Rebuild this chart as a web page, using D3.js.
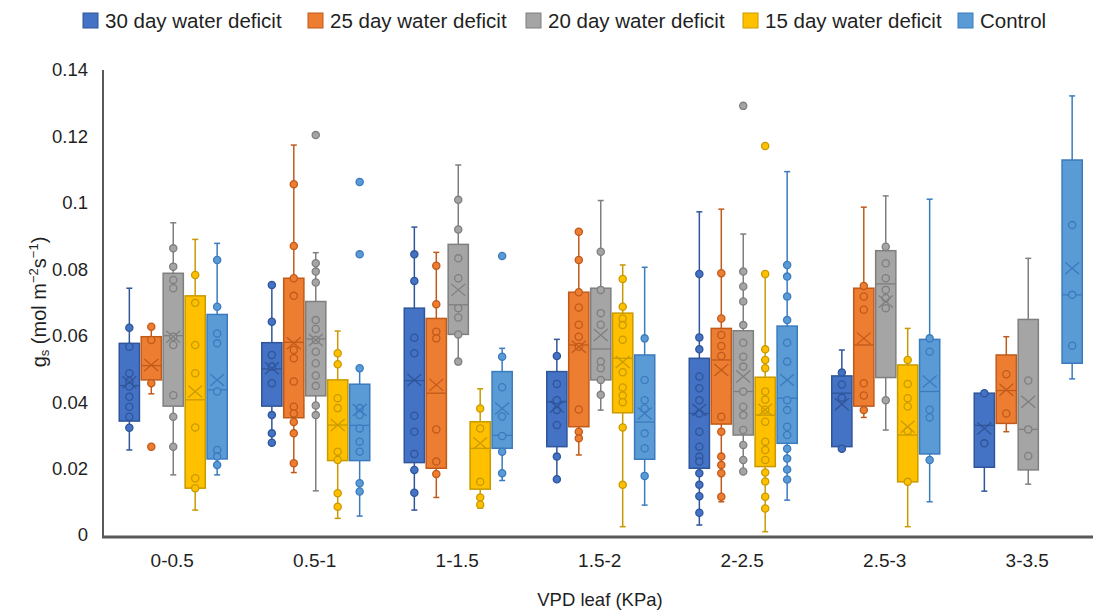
<!DOCTYPE html>
<html lang="en">
<head>
  <meta charset="UTF-8">
  <title>gs by VPD leaf</title>
  <style>
    body, html {
      margin: 0;
      padding: 0;
      background-color: white;
    }
    svg text {
      font-family: "Liberation Sans", Arial, Helvetica, sans-serif;
      fill: #1f1f1f;
    }
  </style>
</head>
<body>
  <svg id="svg" width="1093" height="613"></svg>
  <script src="https://d3js.org/d3.v7.min.js"></script>
  <script>
    // categories and series
    const categories = ['0-0.5', '0.5-1', '1-1.5', '1.5-2', '2-2.5', '2.5-3', '3-3.5']
    const seriesNames = ['30 day water deficit', '25 day water deficit', '20 day water deficit', '15 day water deficit', 'Control']
    const yTicks = [0, 0.02, 0.04, 0.06, 0.08, 0.1, 0.12, 0.14]

    // box stats per category: [lowWhisker, q1, median, q3, highWhisker, mean]
    const stats30 = [
      [0.0256, 0.0343, 0.045, 0.0577, 0.0743, 0.046],
      [0.0278, 0.0388, 0.050, 0.0579, 0.0753, 0.0502],
      [0.0075, 0.0218, 0.0465, 0.0683, 0.0927, 0.0467],
      [0.0168, 0.0266, 0.0401, 0.0492, 0.0589, 0.0386],
      [0.003, 0.0201, 0.0366, 0.0532, 0.0973, 0.0376],
      [0.026, 0.0266, 0.0427, 0.0479, 0.0557, 0.0394],
      [0.0132, 0.0204, 0.033, 0.0427, 0.0427, 0.0321]
    ]
    const stats25 = [
      [0.0425, 0.0467, 0.051, 0.0597, 0.0627, 0.0512],
      [0.0188, 0.0353, 0.058, 0.0773, 0.1174, 0.0577],
      [0.0113, 0.0201, 0.0427, 0.0652, 0.0851, 0.0452],
      [0.0241, 0.0326, 0.0572, 0.0731, 0.0913, 0.0567],
      [0.010, 0.0334, 0.0527, 0.0622, 0.0981, 0.0497],
      [0.0354, 0.0388, 0.0572, 0.0743, 0.0987, 0.0592],
      [0.0311, 0.0336, 0.0435, 0.0542, 0.0597, 0.0437]
    ]
    const stats20 = [
      [0.0181, 0.0388, 0.060, 0.0788, 0.094, 0.0597],
      [0.0133, 0.0419, 0.059, 0.0703, 0.085, 0.0587],
      [0.0515, 0.0604, 0.0693, 0.0875, 0.1114, 0.0738],
      [0.0376, 0.0467, 0.056, 0.0743, 0.1007, 0.0602],
      [0.0186, 0.0301, 0.0432, 0.0615, 0.0906, 0.0477],
      [0.0316, 0.0474, 0.0756, 0.0856, 0.1021, 0.0703],
      [0.0153, 0.0196, 0.0318, 0.0649, 0.0833, 0.0401]
    ]
    const stats15 = [
      [0.0075, 0.0141, 0.0407, 0.072, 0.089, 0.0432],
      [0.005, 0.0224, 0.0331, 0.0467, 0.0614, 0.0331],
      [0.0081, 0.0138, 0.0261, 0.0341, 0.044, 0.0276],
      [0.0025, 0.0368, 0.0532, 0.0668, 0.0813, 0.0521],
      [0.001, 0.0206, 0.0361, 0.0475, 0.0786, 0.0377],
      [0.0025, 0.016, 0.0301, 0.0512, 0.0622, 0.0326],
      null
    ]
    const statsControl = [
      [0.0181, 0.0229, 0.0437, 0.0664, 0.0878, 0.0467],
      [0.0057, 0.0224, 0.033, 0.0454, 0.0502, 0.0376],
      [0.0164, 0.0261, 0.030, 0.0492, 0.0562, 0.0381],
      [0.009, 0.0228, 0.034, 0.0542, 0.0806, 0.0366],
      [0.0105, 0.0276, 0.0412, 0.0629, 0.1094, 0.0467],
      [0.01, 0.0244, 0.0432, 0.0589, 0.1011, 0.0462],
      [0.047, 0.0517, 0.0723, 0.1129, 0.1322, 0.0803]
    ]

    // individual observations (incl. outliers) per category
    const points30 = [
      [0.0624, 0.0567, 0.0487, 0.0462, 0.0447, 0.0416, 0.0386, 0.0356, 0.0323],
      [0.0753, 0.0642, 0.0542, 0.0507, 0.0457, 0.0361, 0.0306, 0.0278],
      [0.0845, 0.0765, 0.0594, 0.0547, 0.0359, 0.0311, 0.0244, 0.0196, 0.0127],
      [0.0539, 0.0455, 0.0406, 0.0376, 0.0331, 0.0236, 0.0168],
      [0.0786, 0.0595, 0.0559, 0.0477, 0.0442, 0.0406, 0.0366, 0.0311, 0.0266, 0.0236, 0.0221, 0.0186, 0.0151, 0.0117, 0.0067],
      [0.0489, 0.0453, 0.0413, 0.026],
      [0.0427, 0.0276]
    ]
    const points25 = [
      [0.0627, 0.0587, 0.0457, 0.0266],
      [0.1056, 0.087, 0.0773, 0.072, 0.0557, 0.0532, 0.0462, 0.0386, 0.0366, 0.034, 0.0306, 0.0216],
      [0.0811, 0.0695, 0.0612, 0.0592, 0.0318, 0.0221, 0.0184],
      [0.0913, 0.0828, 0.0731, 0.0685, 0.0633, 0.0597, 0.0567, 0.0378, 0.0311, 0.0291],
      [0.0788, 0.0652, 0.0602, 0.0569, 0.0539, 0.0356, 0.0311, 0.0236, 0.0211, 0.0186, 0.0115],
      [0.075, 0.0718, 0.0678, 0.0457, 0.042, 0.0376],
      [0.0484, 0.0366]
    ]
    const points20 = [
      [0.0863, 0.0808, 0.0768, 0.0743, 0.0597, 0.0572, 0.0421, 0.0356, 0.0266],
      [0.1204, 0.0818, 0.0793, 0.076, 0.0647, 0.062, 0.0587, 0.0552, 0.0517, 0.048, 0.0449, 0.039, 0.0361],
      [0.1009, 0.092, 0.0833, 0.0773, 0.0683, 0.0655, 0.0604, 0.0522],
      [0.0853, 0.0738, 0.0668, 0.0633, 0.0522, 0.0502, 0.0467, 0.0422],
      [0.1292, 0.0793, 0.0748, 0.0703, 0.0632, 0.0579, 0.0537, 0.0507, 0.0432, 0.0386, 0.0361, 0.0316, 0.0271, 0.0226, 0.0191],
      [0.0868, 0.0818, 0.0773, 0.0738, 0.0713, 0.0683, 0.0406],
      [0.0465, 0.0318, 0.0238]
    ]
    const points15 = [
      [0.0783, 0.0699, 0.0572, 0.0487, 0.0324, 0.0171, 0.0141],
      [0.0547, 0.0514, 0.0412, 0.0382, 0.0251, 0.0226, 0.0126, 0.0085],
      [0.0381, 0.0321, 0.016, 0.0113, 0.0091],
      [0.0771, 0.0687, 0.0652, 0.0632, 0.0588, 0.049, 0.0444, 0.042, 0.040, 0.0324, 0.0151],
      [0.1171, 0.0786, 0.0559, 0.0527, 0.0502, 0.0432, 0.0407, 0.0377, 0.0341, 0.0281, 0.0256, 0.0226, 0.0188, 0.0161, 0.0115, 0.008],
      [0.0527, 0.0455, 0.0412, 0.0387, 0.0313, 0.016],
      []
    ]
    const pointsControl = [
      [0.0828, 0.0687, 0.0607, 0.0577, 0.0432, 0.0256, 0.0236, 0.0211],
      [0.1063, 0.0845, 0.0502, 0.0382, 0.0361, 0.0321, 0.0281, 0.0251, 0.0156, 0.0131],
      [0.084, 0.0537, 0.0445, 0.0357, 0.0298, 0.0251, 0.0186],
      [0.0592, 0.0467, 0.0406, 0.0381, 0.0306, 0.0261, 0.0178],
      [0.0813, 0.0778, 0.0718, 0.0647, 0.0579, 0.0522, 0.0406, 0.0376, 0.0326, 0.0301, 0.026, 0.023, 0.0197, 0.0167],
      [0.0592, 0.0552, 0.0377, 0.0354, 0.0226],
      [0.0933, 0.0723, 0.057]
    ]

    const allStats = [stats30, stats25, stats20, stats15, statsControl]
    const allPoints = [points30, points25, points20, points15, pointsControl]
    const fills = ['#4472C4', '#ED7D31', '#A5A5A5', '#FFC000', '#5B9BD5']
    const strokes = ['#2F559A', '#C05A1A', '#7F7F7F', '#C99A00', '#3A7BBF']

    const svg = d3.select('#svg')
    const plotLeft = 103, plotRight = 1098.5, plotTop = 70, plotBottom = 535

    const xScale = d3.scaleBand()
      .domain(categories)
      .range([plotLeft - 2, plotRight])
    const inner = d3.scaleBand()
      .domain(seriesNames)
      .range([-53, 55])
      .paddingInner(0.08)
    const yScale = d3.scaleLinear()
      .domain([0, 0.14])
      .range([plotBottom, plotTop])

    // y axis (labels only + line)
    const leftAxis = d3.axisLeft(yScale)
      .tickValues(yTicks)
      .tickSize(0)
      .tickPadding(15)
      .tickFormat(d => String(+d.toFixed(2)))
    const yAxisG = svg.append('g')
      .attr('transform', `translate(${plotLeft}, 0)`)
      .call(leftAxis)
    yAxisG.select('.domain').remove()
    yAxisG.selectAll('text')
      .style('font-size', '18.5px')
      .style('font-family', '"Liberation Sans", Arial, sans-serif')
      .attr('fill', '#1f1f1f')

    svg.append('line')
      .attr('x1', plotLeft).attr('x2', plotLeft)
      .attr('y1', plotTop).attr('y2', plotBottom + 2)
      .attr('stroke', '#595959')
      .attr('stroke-width', 2)

    // boxes
    const boxW = inner.bandwidth()
    seriesNames.forEach((name, si) => {
      const g = svg.append('g')
      categories.forEach((cat, ci) => {
        const s = allStats[si][ci]
        if (!s) return
        const cx = xScale(cat) + xScale.bandwidth() / 2 + inner(name) + boxW / 2
        const [lo, q1, med, q3, hi, mean] = s
        const bg = g.append('g')
        // whiskers
        bg.append('line')
          .attr('x1', cx).attr('x2', cx)
          .attr('y1', yScale(hi)).attr('y2', yScale(q3))
          .attr('stroke', strokes[si]).attr('stroke-width', 1.5)
        bg.append('line')
          .attr('x1', cx).attr('x2', cx)
          .attr('y1', yScale(q1)).attr('y2', yScale(lo))
          .attr('stroke', strokes[si]).attr('stroke-width', 1.5)
        ;[lo, hi].forEach(v => {
          bg.append('line')
            .attr('x1', cx - 3).attr('x2', cx + 3)
            .attr('y1', yScale(v)).attr('y2', yScale(v))
            .attr('stroke', strokes[si]).attr('stroke-width', 1.5)
        })
        // box
        bg.append('rect')
          .attr('x', cx - boxW / 2)
          .attr('y', yScale(q3))
          .attr('width', boxW)
          .attr('height', yScale(q1) - yScale(q3))
          .attr('fill', fills[si])
          .attr('stroke', strokes[si])
          .attr('stroke-width', 1.5)
        // median
        bg.append('line')
          .attr('x1', cx - boxW / 2).attr('x2', cx + boxW / 2)
          .attr('y1', yScale(med)).attr('y2', yScale(med))
          .attr('stroke', strokes[si]).attr('stroke-width', 1.3)
        // points
        bg.selectAll('circle')
          .data(allPoints[si][ci])
          .enter()
          .append('circle')
          .attr('cx', cx)
          .attr('cy', d => yScale(d))
          .attr('r', 3.6)
          .attr('fill', fills[si])
          .attr('stroke', strokes[si])
          .attr('stroke-width', 1.3)
        // mean X
        const my = yScale(mean), mw = 7, mh = 6
        bg.append('path')
          .attr('d', `M${cx - mw},${my - mh}L${cx + mw},${my + mh}M${cx - mw},${my + mh}L${cx + mw},${my - mh}`)
          .attr('stroke', strokes[si])
          .attr('stroke-width', 1.3)
          .attr('fill', 'none')
      })
    })

    // x axis
    const bottomAxis = d3.axisBottom(xScale).tickSize(0).tickPadding(17)
    const xAxisG = svg.append('g')
      .attr('transform', `translate(0, ${plotBottom + 2})`)
      .call(bottomAxis)
    xAxisG.select('.domain').remove()
    xAxisG.selectAll('text')
      .style('font-size', '19px')
      .style('font-family', '"Liberation Sans", Arial, sans-serif')
      .attr('fill', '#1f1f1f')
    svg.append('line')
      .attr('x1', plotLeft - 1).attr('x2', 1093)
      .attr('y1', plotBottom + 2).attr('y2', plotBottom + 2)
      .attr('stroke', '#595959')
      .attr('stroke-width', 3)

    // axis titles
    svg.append('text')
      .attr('x', 600).attr('y', 606)
      .attr('text-anchor', 'middle')
      .style('font-size', '18.5px')
      .text('VPD leaf (KPa)')

    const yt = svg.append('text')
      .attr('transform', 'translate(46, 302) rotate(-90)')
      .attr('text-anchor', 'middle')
      .style('font-size', '20px')
    yt.append('tspan').text('g')
    yt.append('tspan').attr('dy', 3).style('font-size', '13px').text('s')
    yt.append('tspan').attr('dy', -3).text(' (mol m')
    yt.append('tspan').attr('dy', -8).style('font-size', '13px').text('−2')
    yt.append('tspan').attr('dy', 8).text('s')
    yt.append('tspan').attr('dy', -8).style('font-size', '13px').text('−1')
    yt.append('tspan').attr('dy', 8).text(')')

    // legend
    const legendX = [83, 308, 526, 743, 958]
    const legend = svg.append('g')
    seriesNames.forEach((name, i) => {
      legend.append('rect')
        .attr('x', legendX[i]).attr('y', 13)
        .attr('width', 15).attr('height', 15)
        .attr('fill', fills[i])
        .attr('stroke', strokes[i])
        .attr('stroke-width', 1)
      legend.append('text')
        .attr('x', legendX[i] + 22).attr('y', 28)
        .style('font-size', '20.5px')
        .text(name)
    })
  </script>
</body>
</html>
